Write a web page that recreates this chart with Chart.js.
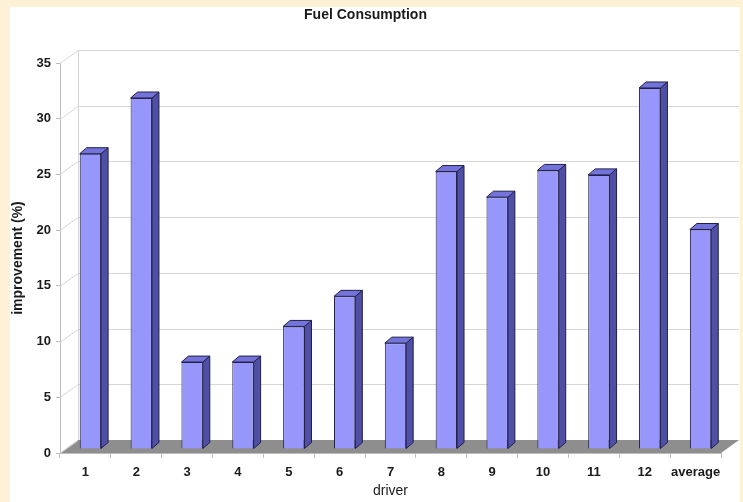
<!DOCTYPE html>
<html>
<head>
<meta charset="utf-8">
<title>Fuel Consumption</title>
<script src="https://cdn.jsdelivr.net/npm/chart.js@4/dist/chart.umd.min.js"></script>
<style>
  html, body { margin: 0; padding: 0; background: #fdf2d5; }
  #wrap { position: absolute; left: 10px; top: 7px; width: 730px; height: 495px; background: #ffffff; }
</style>
</head>
<body>
<div id="wrap"><canvas id="fuelChart" width="730" height="495"></canvas></div>
<script>
// drivers and the improvement in fuel consumption (%)
const drivers = ['1', '2', '3', '4', '5', '6', '7', '8', '9', '10', '11', '12', 'average'];
const improvement = [26.5, 31.5, 7.8, 7.8, 11.0, 13.7, 9.5, 24.9, 22.6, 25.0, 24.6, 32.4, 19.7];
const yTicks = { min: 0, max: 35, step: 5 };

// faux 3D: back wall offset, bar offset into the box, bar depth
const WALL = { dx: 18, dy: -13 };
const SHIFT = { dx: 5, dy: -4 };
const DEPTH = { dx: 7, dy: -6 };

const FONT = '"Liberation Sans", Arial, Helvetica, sans-serif';

const box3d = {
    id: 'box3d',
    beforeDatasetsDraw(chart) {
        const { ctx, chartArea: a, scales: { y } } = chart;
        ctx.save();
        // floor
        ctx.fillStyle = '#8e8e8e';
        ctx.beginPath();
        ctx.moveTo(a.left, a.bottom);
        ctx.lineTo(a.right, a.bottom);
        ctx.lineTo(a.right + WALL.dx, a.bottom + WALL.dy);
        ctx.lineTo(a.left + WALL.dx, a.bottom + WALL.dy);
        ctx.closePath();
        ctx.fill();
        // side wall + back wall grid
        ctx.strokeStyle = '#d6d6d6';
        ctx.lineWidth = 1;
        y.ticks.forEach(t => {
            const py = Math.round(y.getPixelForValue(t.value)) + 0.5;
            ctx.beginPath();
            ctx.moveTo(a.left, py);
            ctx.lineTo(a.left + WALL.dx, py + WALL.dy);
            if (t.value !== yTicks.min) ctx.lineTo(a.right + WALL.dx, py + WALL.dy);
            ctx.stroke();
        });
        ctx.beginPath();
        ctx.moveTo(a.left + WALL.dx + 0.5, a.top + WALL.dy);
        ctx.lineTo(a.left + WALL.dx + 0.5, a.bottom + WALL.dy);
        ctx.stroke();
        ctx.restore();

        // bars sit a little back from the front edge
        ctx.save();
        ctx.translate(SHIFT.dx, SHIFT.dy);
    },
    afterDatasetsDraw(chart) {
        const { ctx } = chart;
        const meta = chart.getDatasetMeta(0);
        ctx.lineWidth = 1;
        ctx.strokeStyle = '#20204a';
        meta.data.forEach(bar => {
            const { x, y, base, width } = bar.getProps(['x', 'y', 'base', 'width'], true);
            const l = x - width / 2, r = x + width / 2;
            // side face
            ctx.fillStyle = '#4f4fa6';
            ctx.beginPath();
            ctx.moveTo(r, y);
            ctx.lineTo(r + DEPTH.dx, y + DEPTH.dy);
            ctx.lineTo(r + DEPTH.dx, base + DEPTH.dy);
            ctx.lineTo(r, base);
            ctx.closePath();
            ctx.fill();
            ctx.stroke();
            // top face
            ctx.fillStyle = '#7373d9';
            ctx.beginPath();
            ctx.moveTo(l, y);
            ctx.lineTo(l + DEPTH.dx, y + DEPTH.dy);
            ctx.lineTo(r + DEPTH.dx, y + DEPTH.dy);
            ctx.lineTo(r, y);
            ctx.closePath();
            ctx.fill();
            ctx.stroke();
        });
        ctx.restore();
    }
};

new Chart(document.getElementById('fuelChart'), {
    type: 'bar',
    data: {
        labels: drivers,
        datasets: [{
            label: 'improvement (%)',
            data: improvement,
            backgroundColor: '#9797fb',
            borderColor: '#20204a',
            borderWidth: 1,
            categoryPercentage: 1,
            barPercentage: 0.42
        }]
    },
    options: {
        responsive: false,
        animation: false,
        layout: { padding: { left: 0, right: 19, top: 0, bottom: 0 } },
        plugins: {
            legend: { display: false },
            tooltip: { enabled: false },
            title: {
                display: true,
                text: 'Fuel Consumption',
                color: '#1a1a1a',
                font: { family: FONT, size: 14, weight: 'bold' },
                padding: { top: 0, bottom: 39.2 }
            }
        },
        scales: {
            x: {
                grid: { offset: true, drawOnChartArea: false, tickLength: 5, color: '#bdbdbd' },
                border: { color: '#bdbdbd' },
                ticks: {
                    color: '#1a1a1a',
                    padding: 7,
                    autoSkip: false,
                    minRotation: 0,
                    maxRotation: 0,
                    font: { family: FONT, size: 13, weight: 'bold' }
                },
                title: {
                    display: true,
                    text: 'driver',
                    color: '#1a1a1a',
                    font: { family: FONT, size: 14 },
                    padding: { top: 0, bottom: 2 }
                },
                afterFit(s) { s.height = 49; }
            },
            y: {
                min: yTicks.min,
                max: yTicks.max,
                grid: { drawOnChartArea: false, tickLength: 4, color: '#bdbdbd' },
                border: { color: '#bdbdbd' },
                ticks: { stepSize: yTicks.step, color: '#1a1a1a', padding: 5, font: { family: FONT, size: 13, weight: 'bold' } },
                title: {
                    display: true,
                    text: 'improvement (%)',
                    color: '#1a1a1a',
                    font: { family: FONT, size: 14, weight: 'bold' },
                    padding: { top: 0, bottom: 0 }
                },
                afterFit(s) { s.width = 50; }
            }
        }
    },
    plugins: [box3d]
});
</script>
</body>
</html>
